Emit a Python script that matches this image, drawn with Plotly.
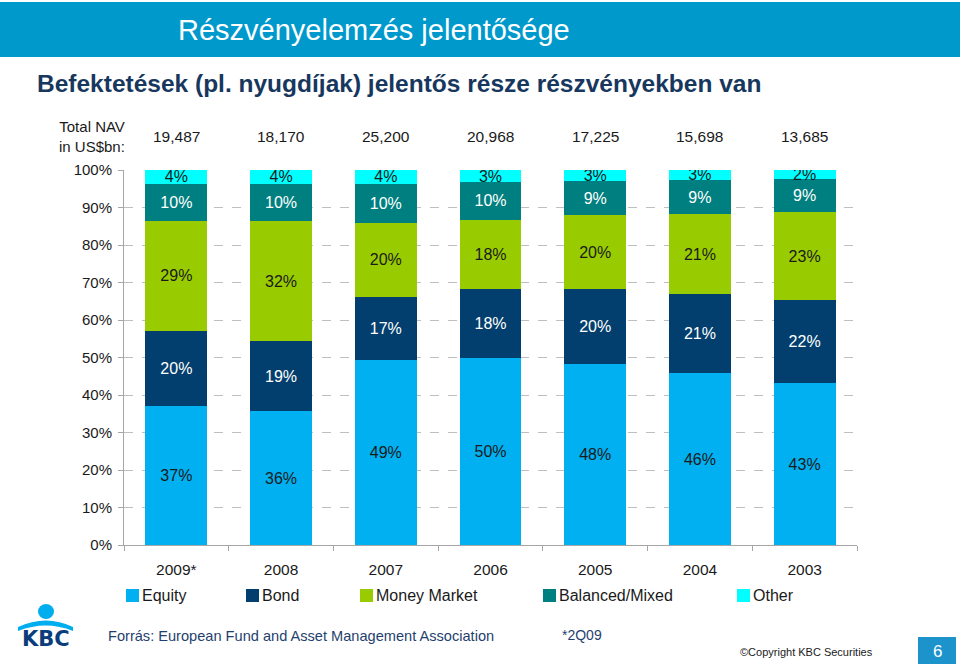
import plotly.graph_objects as go

categories = ["2009*", "2008", "2007", "2006", "2005", "2004", "2003"]
nav_values = ["19,487", "18,170", "25,200", "20,968", "17,225", "15,698", "13,685"]

equity = [37.1, 35.7, 49.3, 50.0, 48.3, 45.8, 43.1]
bond = [20.0, 18.7, 16.9, 18.4, 19.9, 21.1, 22.2]
money_market = [29.3, 32.0, 19.7, 18.4, 19.7, 21.3, 23.4]
balanced = [9.9, 9.9, 10.4, 10.0, 9.2, 9.2, 8.9]
other = [3.7, 3.7, 3.7, 3.2, 2.9, 2.6, 2.4]

series = [
    ("Equity", equity, "#00B0F0", "#1a1a1a"),
    ("Bond", bond, "#033F6E", "#ffffff"),
    ("Money Market", money_market, "#99CC00", "#1a1a1a"),
    ("Balanced/Mixed", balanced, "#007F80", "#ffffff"),
    ("Other", other, "#00FFFF", "#1a1a1a"),
]
# legend item left edges (pixels)
legend_x = [126, 246, 360, 543, 737]

W, H = 960, 664
L, R, T, B = 124, 857, 170, 545


def px(x):
    return (x - L) / (R - L)


def py(y):
    return (B - y) / (B - T)


FONT = "Liberation Sans, Arial, sans-serif"

fig = go.Figure()
for name, vals, col, tcol in series:
    fig.add_trace(go.Bar(
        name=name, x=categories, y=vals,
        marker=dict(color=col, line=dict(width=0)),
        texttemplate="%{y:.0f}%", textposition="inside",
        insidetextanchor="middle", constraintext="none",
        textfont=dict(size=16, color=tcol, family=FONT),
        hoverinfo="skip", showlegend=False,
    ))

ann = []
shapes = [
    dict(type="rect", xref="paper", yref="paper", x0=px(0), x1=px(960),
         y0=py(2), y1=py(57), fillcolor="#0099CC", line=dict(width=0), layer="below"),
    dict(type="rect", xref="paper", yref="paper", x0=px(918), x1=px(956),
         y0=py(637), y1=py(664), fillcolor="#1C93CB", line=dict(width=0)),
    # KBC logo: head and arms
    dict(type="circle", xref="paper", yref="paper", x0=px(38), x1=px(54),
         y0=py(604), y1=py(619), fillcolor="#00AEEF", line=dict(width=0)),
    dict(type="path", xref="paper", yref="paper",
         path=f"M {px(18)},{py(627)} Q {px(46)},{py(614)} {px(73)},{py(627)} "
              f"L {px(73)},{py(631)} Q {px(46)},{py(620)} {px(18)},{py(631)} Z",
         fillcolor="#00AEEF", line=dict(width=0)),
]


def add_text(x, y, text, size, color, xanchor="left", **kw):
    ann.append(dict(x=px(x), xref="paper", y=py(y), yref="paper", text=text,
                    showarrow=False, xanchor=xanchor, yanchor="middle",
                    font=dict(size=size, color=color, **kw)))


# NAV row
for i, v in enumerate(nav_values):
    ann.append(dict(x=i, xref="x", y=py(136), yref="paper", text=v,
                    showarrow=False, xanchor="center", yanchor="middle",
                    font=dict(size=15.5, color="#1a1a1a")))
ann.append(dict(x=px(127), xref="paper", y=py(137), yref="paper",
                text="Total NAV<br>in US$bn:", showarrow=False, xanchor="right",
                yanchor="middle", align="right", font=dict(size=15, color="#1a1a1a")))

# Manual legend
for (name, vals, col, tcol), lx in zip(series, legend_x):
    shapes.append(dict(type="rect", xref="paper", yref="paper", x0=px(lx), x1=px(lx + 13),
                       y0=py(589), y1=py(602), fillcolor=col, line=dict(width=0)))
    add_text(lx + 14, 595, name, 16, "#1a1a1a")

# Titles
add_text(176, 30, "Részvényelemzés jelentősége", 29, "#ffffff")
add_text(35, 83, "<b>Befektetések (pl. nyugdíjak) jelentős része részvényekben van</b>",
         24.5, "#17375E")
# Footer
add_text(106, 636, "Forrás: European Fund and Asset Management Association", 14.6, "#1F3F6E")
add_text(560, 635, "*2Q09", 14, "#1F3F6E")
add_text(738, 652, "©Copyright KBC Securities", 11, "#1a1a1a")
add_text(937, 651, "6", 17, "#ffffff", xanchor="center")
add_text(46, 639, "<b>KBC</b>", 21, "#0A3D7A", xanchor="center", family="DejaVu Sans, Arial")

fig.update_layout(
    width=W, height=H,
    margin=dict(l=L, r=W - R, t=T, b=H - B, pad=0),
    barmode="stack", bargap=0.41,
    paper_bgcolor="#ffffff", plot_bgcolor="#ffffff",
    font=dict(family=FONT, color="#1a1a1a", size=15),
    annotations=ann, shapes=shapes,
    showlegend=False,
    xaxis=dict(type="category", range=[-0.5, 6.5], showgrid=False, showline=True,
               linecolor="#a6a6a6", linewidth=1, ticks="outside", tickson="boundaries",
               ticklen=5, tickcolor="#a6a6a6", tickfont=dict(size=15.5),
               ticklabelstandoff=10, fixedrange=True),
    yaxis=dict(range=[0, 100], dtick=10, ticksuffix="%", showgrid=True,
               gridcolor="#bfbfbf", griddash="dash", gridwidth=1,
               showline=True, linecolor="#a6a6a6", linewidth=1,
               ticks="outside", ticklen=5, tickcolor="#a6a6a6",
               tickfont=dict(size=15), ticklabelstandoff=3,
               zeroline=False, fixedrange=True),
)

fig.write_html("out.html")
